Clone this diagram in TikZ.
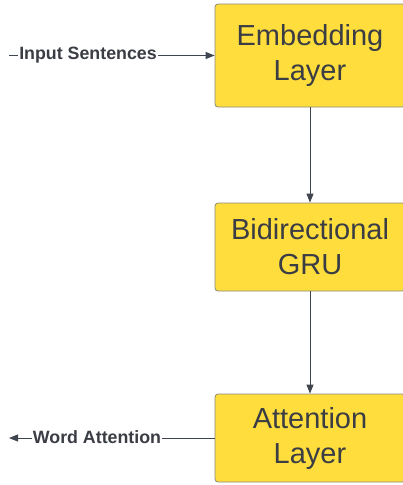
\documentclass[tikz,border=0pt]{standalone}
\usepackage{fontspec}
\setmainfont{Liberation Sans}
\usetikzlibrary{arrows.meta}
\definecolor{boxfill}{HTML}{FFDD3C}
\definecolor{boxline}{HTML}{8A8A7A}
\definecolor{ink}{HTML}{3A3D44}
\definecolor{wire}{HTML}{3F4650}
\tikzset{
  layerbox/.style={draw=boxline, line width=0.8pt, fill=boxfill, rounded corners=3pt,
    minimum width=190pt, minimum height=#1, inner sep=0pt, text=ink,
    font=\fontsize{29}{35}\selectfont, align=center},
  flow/.style={draw=wire, line width=0.9pt, -{Triangle[length=9pt,width=7pt]}},
  tag/.style={fill=white, inner sep=1pt, text=ink, font=\fontsize{17.8}{19}\selectfont\bfseries}
}
\begin{document}
\begin{tikzpicture}[x=1pt,y=-1pt]
\useasboundingbox (0,0) rectangle (403,485);
\begin{scope}
\clip (0,0) rectangle (403,485);
\node[layerbox=103pt] (emb) at (310,55.5) {Embedding\\Layer};
\node[layerbox=88pt] (gru) at (310,247) {Bidirectional\\GRU};
\node[layerbox=88pt] (att) at (310,438) {Attention\\Layer};
\end{scope}
\coordinate (in) at (9,55.5);
\coordinate (out) at (9,438);
\draw[flow] (emb.south -| 310,0) -- (gru.north -| 310,0);
\draw[flow] (gru.south -| 310,0) -- (att.north -| 310,0);
\draw[flow] (in) -- (in -| emb.west);
\draw[flow] (att.west |- out) -- (out);
\node[tag] (inl) at (88,55) {Input Sentences};
\node[tag] (outl) at (97,437) {Word Attention};
\end{tikzpicture}
\end{document}
